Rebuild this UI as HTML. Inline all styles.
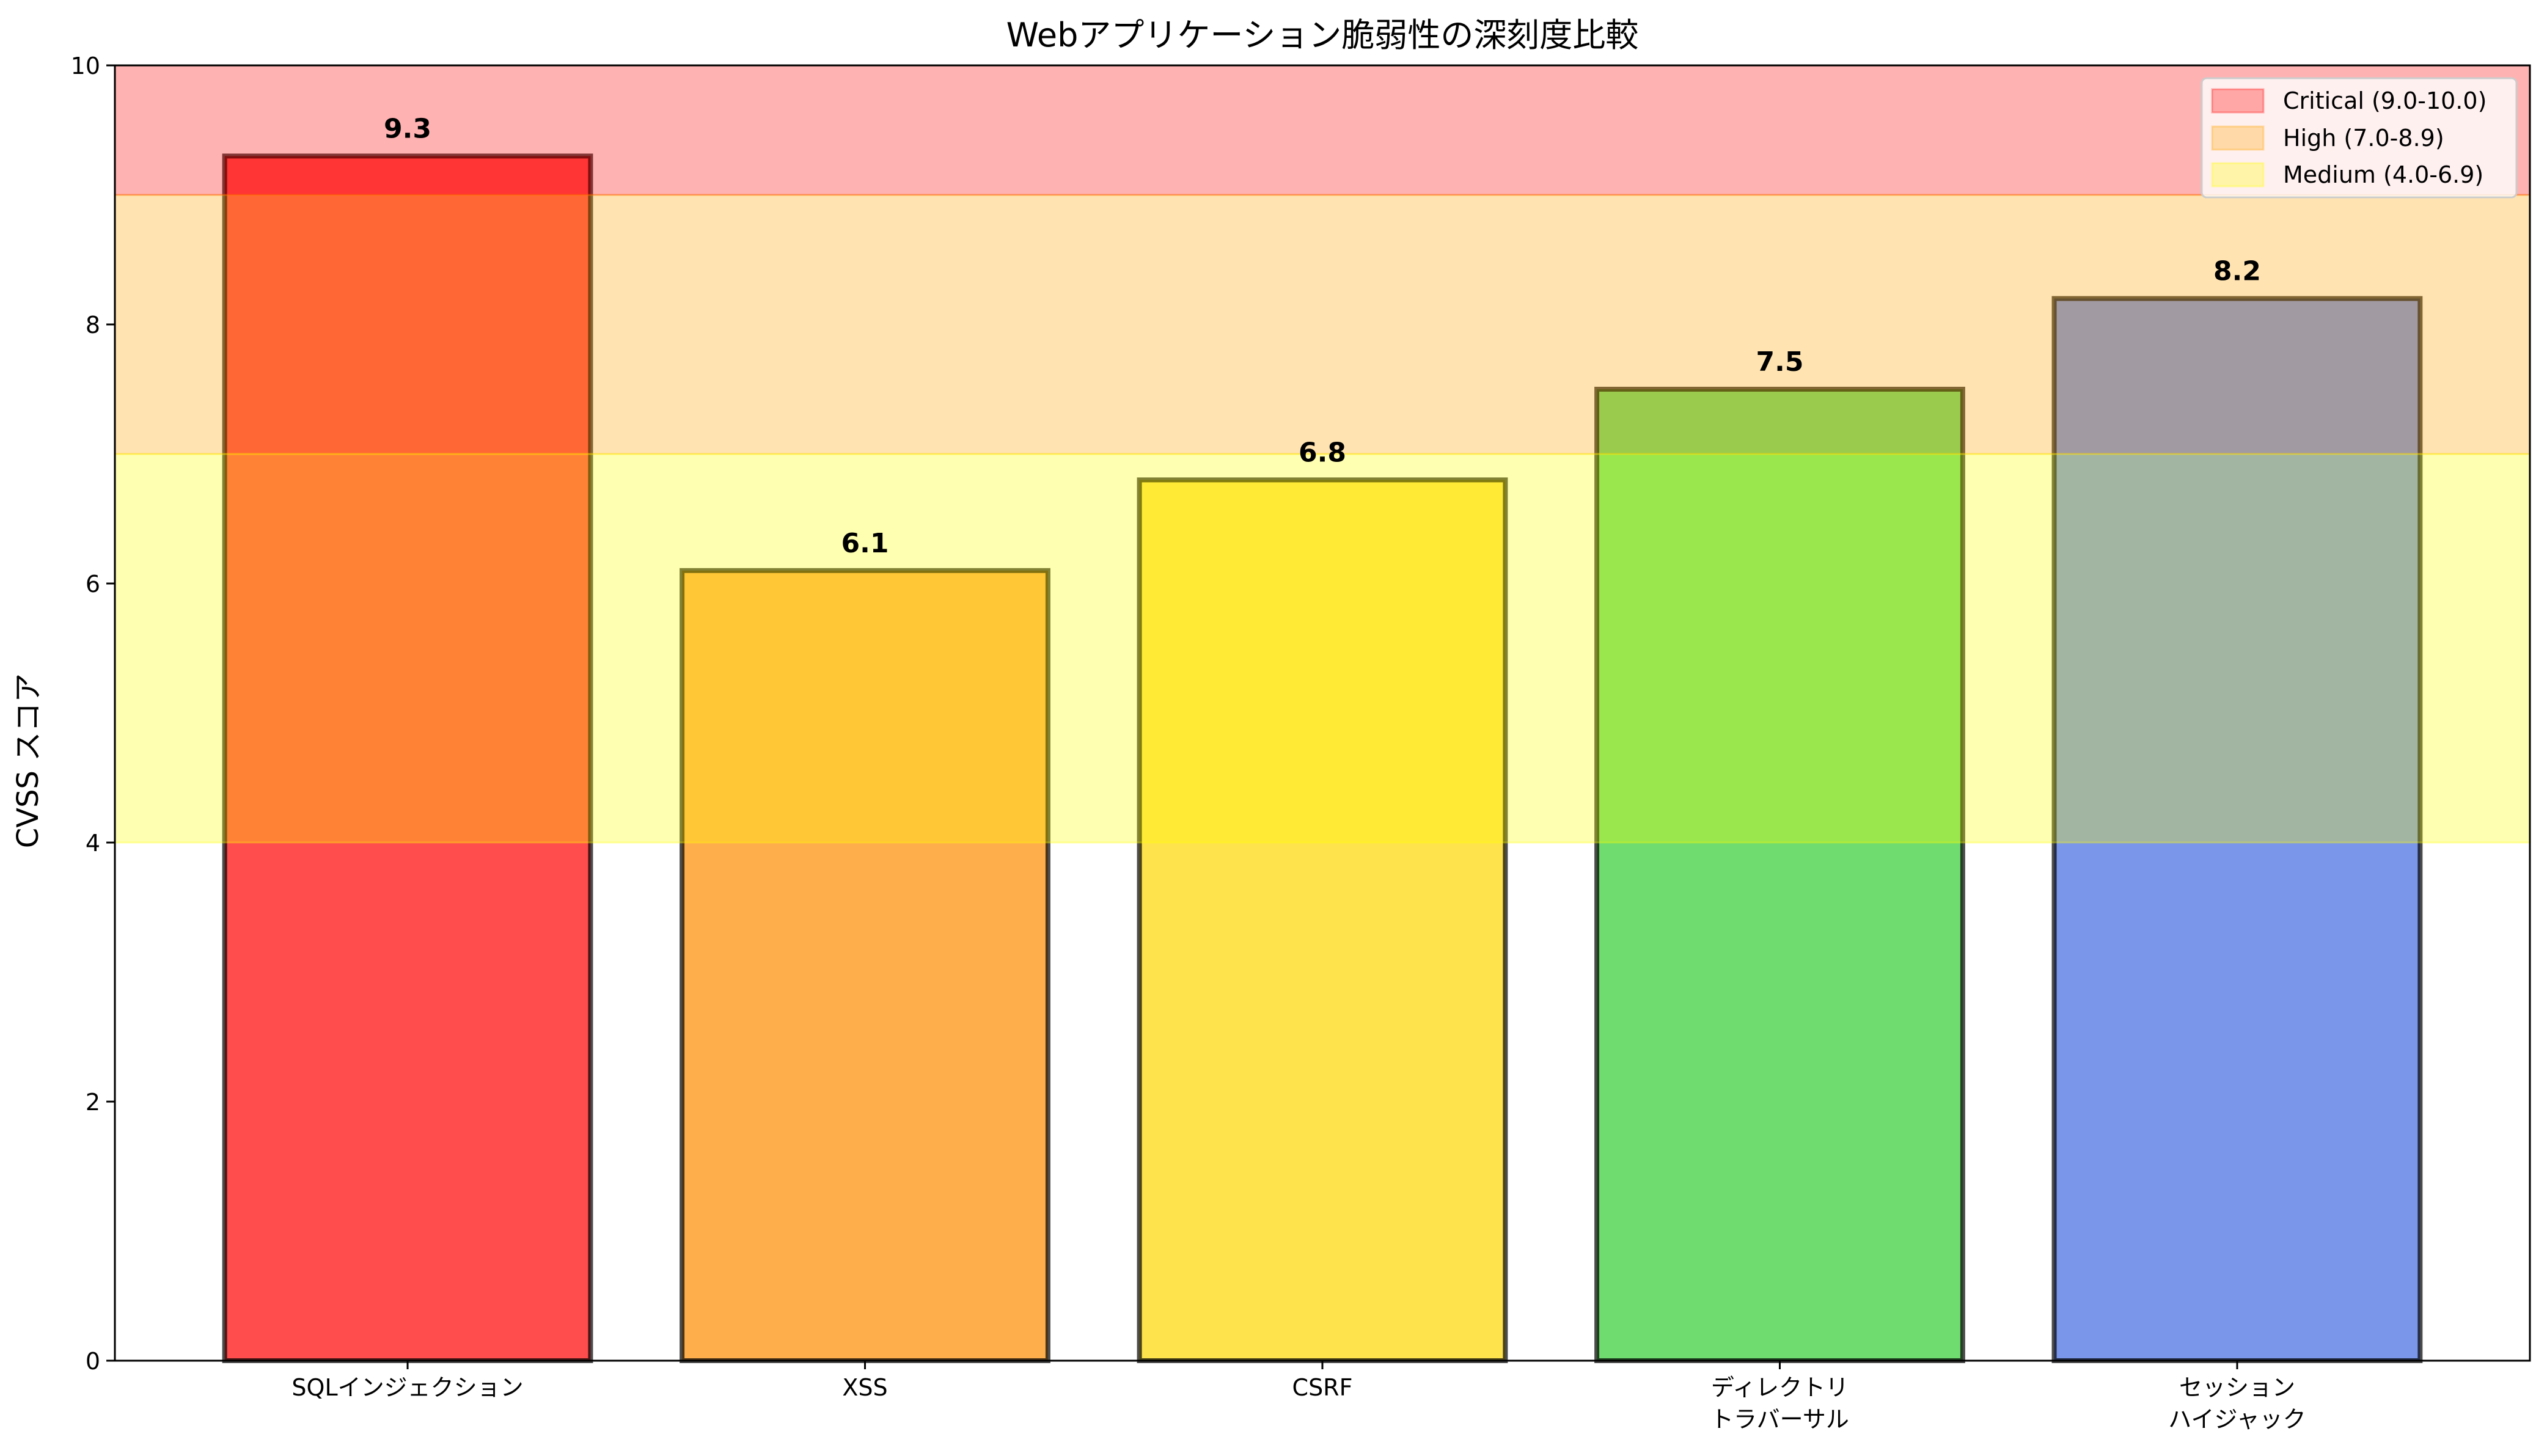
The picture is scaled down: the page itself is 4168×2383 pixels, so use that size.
<!DOCTYPE html>
<html><head><meta charset="utf-8"><style>
html,body{margin:0;padding:0;background:#fff;}
svg text{font-family:"DejaVu Sans","Liberation Sans","Noto Sans CJK JP",sans-serif;}
</style></head><body>
<svg id="chart" width="4168" height="2378" viewBox="0 0 4168 2378" xmlns="http://www.w3.org/2000/svg">
<rect width="4168" height="2378" fill="#fff"/>
<g id="bars"></g>
<g id="bands"></g>
<g id="labels"></g>
<g id="axes"></g>
<text x="2164" y="76" text-anchor="middle" font-size="54">Webアプリケーション脆弱性の深刻度比較</text>
<text transform="translate(62,1245) rotate(-90)" text-anchor="middle" font-size="48">CVSS スコア</text>
<g>
<rect x="3603" y="128" width="515" height="195" rx="8" fill="#fff" fill-opacity="0.8" stroke="#ccc" stroke-width="3"/>
<g><rect x="3620" y="146" width="84" height="38" fill="#ff0000" fill-opacity="0.3" stroke="#ff0000" stroke-opacity="0.3" stroke-width="3"/><text x="3736" y="178" font-size="38">Critical (9.0-10.0)</text></g>
<g><rect x="3620" y="207" width="84" height="38" fill="#ffa500" fill-opacity="0.3" stroke="#ffa500" stroke-opacity="0.3" stroke-width="3"/><text x="3736" y="239" font-size="38">High (7.0-8.9)</text></g>
<g><rect x="3620" y="267" width="84" height="38" fill="#ffff00" fill-opacity="0.3" stroke="#ffff00" stroke-opacity="0.3" stroke-width="3"/><text x="3736" y="299" font-size="38">Medium (4.0-6.9)</text></g>
</g>
</svg>
<script>
const categories = [["SQLインジェクション"],["XSS"],["CSRF"],["ディレクトリ","トラバーサル"],["セッション","ハイジャック"]];
const scores = [9.3, 6.1, 6.8, 7.5, 8.2];
const barColors = ["#ff0000","#ff8c00","#ffd700","#32cd32","#4169e1"];
const bandLow = [9, 7, 4];
const bandHigh = [10, 9, 7];
const bandColors = ["#ff0000","#ffa500","#ffff00"];
const yTicks = [0, 2, 4, 6, 8, 10];

const NS = "http://www.w3.org/2000/svg";
const L = 188, R = 4140, T = 107, B = 2227;
const xMin = -0.64, xMax = categories.length - 1 + 0.64;
const yMin = 0, yMax = 10;
const xs = v => L + (v - xMin) / (xMax - xMin) * (R - L);
const ys = v => B - (v - yMin) / (yMax - yMin) * (B - T);
function mk(tag, attrs, parent) {
  const e = document.createElementNS(NS, tag);
  for (const k in attrs) e.setAttribute(k, attrs[k]);
  parent.appendChild(e);
  return e;
}
const barsG = document.getElementById('bars');
const labelsG = document.getElementById('labels');
const bw = 0.8 * (xs(1) - xs(0));
scores.forEach((v, i) => {
  const cx = xs(i);
  const r = mk('rect', {x: cx - bw / 2, y: ys(v), width: bw, height: ys(0) - ys(v), fill: barColors[i], 'fill-opacity': 0.7, stroke: '#000', 'stroke-opacity': 0.7, 'stroke-width': 8}, barsG);
  
  
  const t = mk('text', {x: cx, y: ys(v) - 30, 'text-anchor': 'middle', 'font-size': 44, 'font-weight': 'bold'}, labelsG);
  t.textContent = v.toFixed(1);
  
  
});
const bandsG = document.getElementById('bands');
bandLow.forEach((lo, i) => {
  const r = mk('rect', {x: L, y: ys(bandHigh[i]), width: R - L, height: ys(lo) - ys(bandHigh[i]), fill: bandColors[i], 'fill-opacity': 0.3, stroke: bandColors[i], 'stroke-opacity': 0.3, 'stroke-width': 3}, bandsG);
  
  
});
const ax = document.getElementById('axes');
const frame = mk('rect', {x: L, y: T, width: R - L, height: B - T, fill: 'none', stroke: '#000', 'stroke-width': 3}, ax);


yTicks.forEach(v => {
  mk('line', {x1: L - 14, x2: L, y1: ys(v), y2: ys(v), stroke: '#000', 'stroke-width': 3}, ax);
  const t = mk('text', {x: L - 24, y: ys(v) + 14, 'text-anchor': 'end', 'font-size': 38}, ax);
  t.textContent = String(v);
  
  
});
categories.forEach((lines, i) => {
  const cx = xs(i);
  mk('line', {x1: cx, x2: cx, y1: B, y2: B + 14, stroke: '#000', 'stroke-width': 3}, ax);
  lines.forEach((s, j) => {
    const t = mk('text', {x: cx, y: 2284 + j * 52, 'text-anchor': 'middle', 'font-size': 38}, ax);
    t.textContent = s;
    
    
  });
});
</script>
</body></html>
